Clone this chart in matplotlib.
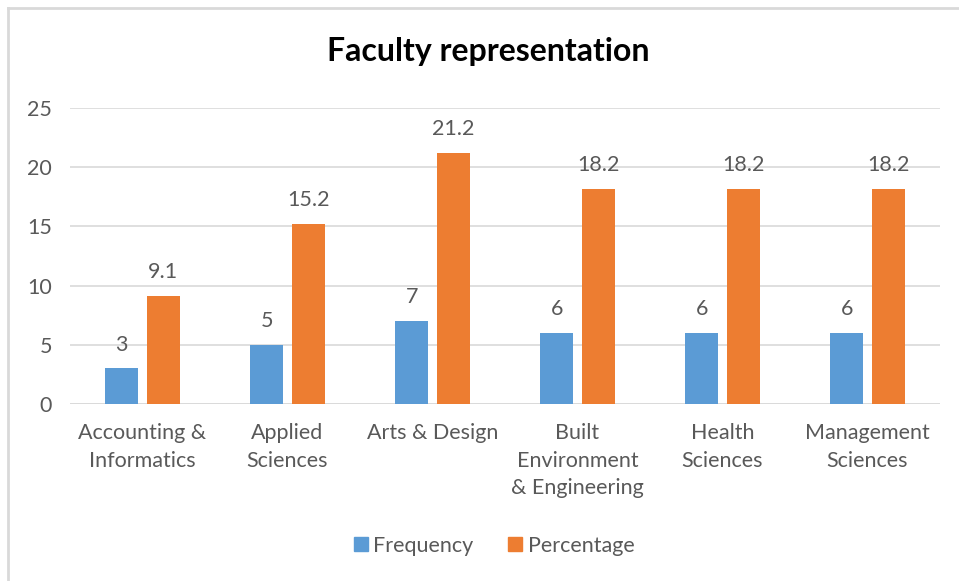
import numpy as np
import matplotlib
matplotlib.use("Agg")
import matplotlib.pyplot as plt
from matplotlib.lines import Line2D
from matplotlib import rcParams
rcParams.update({"font.family": ["Lato", "DejaVu Sans"]})

CATEGORIES = [
    "Accounting &\nInformatics",
    "Applied\nSciences",
    "Arts & Design",
    "Built\nEnvironment\n& Engineering",
    "Health\nSciences",
    "Management\nSciences",
]
FREQUENCY = [3, 5, 7, 6, 6, 6]
PERCENTAGE = [9.1, 15.2, 21.2, 18.2, 18.2, 18.2]
FREQ_LABELS = ["3", "5", "7", "6", "6", "6"]
PCT_LABELS = ["9.1", "15.2", "21.2", "18.2", "18.2", "18.2"]
Y_TICKS = [0, 5, 10, 15, 20, 25]

BLUE = "#5B9BD5"
ORANGE = "#ED7D31"
TEXT = "#595959"
GRID = "#D9D9D9"
FS = 15.5


def main():
    fig = plt.figure(figsize=(9.59, 5.81), dpi=100)
    ax = fig.add_axes([70 / 959, 1 - 404 / 581, 870 / 959, 296 / 581])

    x = np.arange(len(CATEGORIES))
    width = 0.225
    off = 0.143
    b1 = ax.bar(x - off, FREQUENCY, width, color=BLUE, zorder=3)
    b2 = ax.bar(x + off, PERCENTAGE, width, color=ORANGE, zorder=3)
    ax.bar_label(b1, labels=FREQ_LABELS, padding=10, fontsize=FS, color=TEXT)
    ax.bar_label(b2, labels=PCT_LABELS, padding=10, fontsize=FS, color=TEXT)

    ax.set_xlim(-0.5, len(CATEGORIES) - 0.5)
    ax.set_ylim(0, 25)
    ax.set_yticks(Y_TICKS)
    ax.set_xticks(x)
    ax.set_xticklabels(CATEGORIES, linespacing=1.45)
    ax.tick_params(axis="both", length=0, labelsize=FS, labelcolor=TEXT)
    ax.tick_params(axis="x", pad=14)
    ax.tick_params(axis="y", pad=13)
    ax.grid(axis="y", color=GRID, linewidth=1.2, zorder=0)
    for s in ax.spines.values():
        s.set_visible(False)
    ax.axhline(0, color=GRID, linewidth=1.2, zorder=1)

    fig.text(488 / 959, 1 - 51 / 581, "Faculty representation", ha="center",
             va="center", fontsize=23, fontweight="bold", color="black")

    handles = [
        Line2D([], [], marker="s", linestyle="none", markersize=10,
               markerfacecolor=BLUE, markeredgecolor=BLUE),
        Line2D([], [], marker="s", linestyle="none", markersize=10,
               markerfacecolor=ORANGE, markeredgecolor=ORANGE),
    ]
    leg = fig.legend(handles, ["Frequency", "Percentage"], loc="center",
                     bbox_to_anchor=(492 / 959, 1 - 546 / 581), ncol=2,
                     frameon=False, fontsize=FS, handletextpad=0.1,
                     columnspacing=1.4, handlelength=1.0)
    for t in leg.get_texts():
        t.set_color(TEXT)

    # chart border (left and top edges visible)
    fig.add_artist(Line2D([8 / 959, 8 / 959], [0, 1 - 8 / 581],
                          transform=fig.transFigure, color=GRID, linewidth=2))
    fig.add_artist(Line2D([8 / 959, 1], [1 - 8 / 581, 1 - 8 / 581],
                          transform=fig.transFigure, color=GRID, linewidth=2))

    fig.savefig("out.png", dpi=100)


if __name__ == "__main__":
    main()
